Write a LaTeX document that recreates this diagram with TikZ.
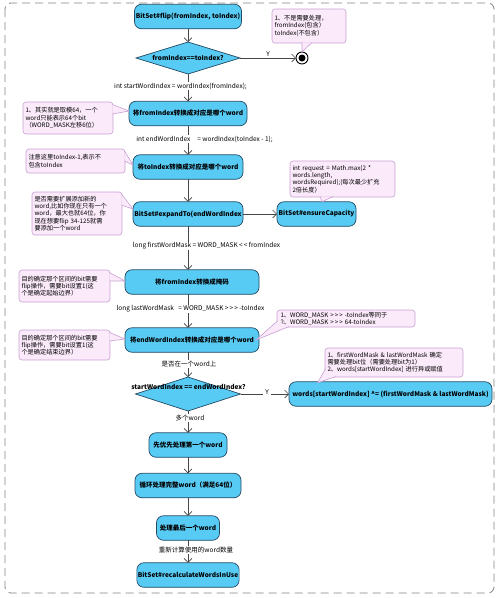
\documentclass[tikz,border=0pt]{standalone}
\usepackage{fontspec}
\setmainfont{Noto Sans CJK SC}
\usetikzlibrary{shapes.geometric,arrows.meta,calc}
\definecolor{nodefill}{RGB}{88,203,245}
\definecolor{nodeborder}{RGB}{35,75,100}
\definecolor{notefill}{RGB}{251,234,250}
\definecolor{noteborder}{RGB}{200,160,212}
\definecolor{edgecol}{RGB}{70,70,70}
\definecolor{framecol}{RGB}{130,130,130}
\tikzset{
  act/.style={rectangle, rounded corners=7pt, draw=nodeborder, fill=nodefill, line width=0.7pt,
    minimum height=24.5pt, inner sep=1pt, outer sep=0pt, font=\bfseries\fontsize{6.5}{7.5}\selectfont},
  dec/.style={diamond, draw=nodeborder, fill=nodefill, line width=0.7pt, inner sep=0pt, outer sep=0pt},
  dectext/.style={font=\bfseries\fontsize{6.5}{7.5}\selectfont, inner sep=0pt},
  note/.style={rectangle, rounded corners=3pt, draw=noteborder, fill=notefill, line width=0.6pt,
    anchor=north west, align=left, inner sep=2.5pt, outer sep=0pt, font=\fontsize{6.2}{7.3}\selectfont},
  lbl/.style={fill=white, inner sep=0.6pt, font=\fontsize{6.5}{7.5}\selectfont},
  arr/.style={draw=edgecol, line width=0.6pt, -{Straight Barb[length=4pt,width=8pt]}},
  tailline/.style={draw=noteborder, line width=0.6pt, line join=miter},
  framestyle/.style={draw=framecol, line width=0.8pt, dash pattern=on 8pt off 5pt, rounded corners=6pt}
}
\newcommand\notetail[3]{%
  \fill[notefill] #1 -- #2 -- #3 -- cycle;
  \draw[tailline] #1 -- #2 -- #3;}
\begin{document}
\begin{tikzpicture}[x=1pt,y=-1pt]
\useasboundingbox (0,0) rectangle (500,598);
\draw[framestyle] (5,3) rectangle (494,593);

% activity nodes
\node[act, minimum width=107pt] (flip) at (188,16.5) {BitSet\#flip(fromIndex, toIndex)};
\node[dec, minimum width=104pt, minimum height=32pt] (d1) at (188,58) {};
\node[dectext] (d1t) at (d1) {fromIndex==toIndex?};
\node[circle, draw=black, line width=0.9pt, fill=white, minimum size=12pt, inner sep=0pt, outer sep=0pt] (endc) at (302,58) {};
\node[circle, fill=black, minimum size=7pt, inner sep=0pt] (endin) at (endc) {};
\node[act, minimum width=118pt] (n4) at (188,113.5) {将fromIndex转换成对应是哪个word};
\node[act, minimum width=110pt] (n5) at (188,167) {将toIndex转换成对应是哪个word};
\node[act, minimum width=110pt] (n6) at (188,214) {BitSet\#expandTo(endWordIndex};
\node[act, minimum width=79pt] (ens) at (316.5,214) {BitSet\#ensureCapacity};
\node[act, minimum width=134pt] (n8) at (192,282) {将fromIndex转换成掩码};
\node[act, minimum width=134pt] (n9) at (192,340) {将endWordIndex转换成对应是哪个word};
\node[dec, minimum width=105pt, minimum height=34pt] (d2) at (188,394) {};
\node[dectext] (d2t) at (188.5,387) {startWordIndex == endWordIndex?};
\node[act, minimum width=203pt] (n11) at (390.5,394) {words[startWordIndex] \^{}= (firstWordMask \& lastWordMask)};
\node[act, minimum width=78pt] (n12) at (188,445) {先优先处理第一个word};
\node[act, minimum width=106pt] (n13) at (188,485.5) {循环处理完整word（满足64位）};
\node[act, minimum width=63pt] (n14) at (188,528) {处理最后一个word};
\node[act, minimum width=102pt] (n15) at (188,575) {BitSet\#recalculateWordsInUse};

% connectors
\draw[arr] (flip.south) -- (d1.north);
\draw[arr] (d1.east) -- node[above, inner sep=1.5pt, font=\fontsize{6.5}{7.5}\selectfont] (ly1) {Y} (endc.west);
\draw[arr] (d1.south) -- (n4.north);
\draw[arr] (n4.south) -- (n5.north);
\draw[arr] (n5.south) -- (n6.north);
\draw[arr] (n6.east) -- (ens.west);
\draw[arr] (n6.south) -- (n6.south |- n8.north);
\draw[arr] (n8.south -| n6.south) -- (n6.south |- n9.north);
\draw[arr] (n9.south -| d2.north) -- (d2.north);
\draw[arr] (d2.east) -- (n11.west);
\draw[arr] (d2.south) -- (n12.north);
\draw[arr] (n12.south) -- (n13.north);
\draw[arr] (n13.south) -- (n14.north);
\draw[arr] (n14.south) -- (n15.north);

% edge labels
\node[lbl] (l1) at (180.5,86) {int startWordIndex = wordIndex(fromIndex);};
\node[lbl] (l2) at (204.5,139) {int endWordIndex\hspace{7pt}= wordIndex(toIndex - 1);};
\node[lbl] (l3) at (206.5,246) {long firstWordMask = WORD\_MASK <\,< fromIndex};
\node[lbl] (l4) at (190.5,309) {long lastWordMask\hspace{3pt} = WORD\_MASK >\,>\,> -toIndex};
\node[lbl] (l5) at (189,364) {是否在一个word上};
\node[lbl, inner sep=2pt] (ly2) at (267,392.5) {Y};
\node[lbl] (l7) at (190,418) {多个word};
\node[lbl] (l8) at (196,550) {重新计算使用的word数量};

% notes
\node[note, minimum width=74pt, minimum height=34pt, text width=69pt] (N1) at (272,9)
  {1、不是需要处理，\\fromIndex(包含）\\toIndex(不包含）};
\notetail{($(N1.south west)+(30,-0.5)$)}{(endc.north)}{($(N1.south west)+(40,-0.5)$)}

\node[note, minimum width=90pt, minimum height=32pt, text width=85pt] (N2) at (23,102)
  {1、其实就是取模64，一个\\word只能表示64个bit\\（WORD\_MASK左移6位）};
\notetail{($(N2.north east)+(-0.5,2.5)$)}{($(n4.west)+(0,-2.5)$)}{($(N2.north east)+(-0.5,12)$)}

\node[note, minimum width=99pt, minimum height=24pt, text width=94pt] (N3) at (26,149)
  {注意这里toIndex-1,表示不\\包含toIndex};
\notetail{($(N3.north east)+(-0.5,2)$)}{($(n5.west)+(0,-2)$)}{($(N3.north east)+(-0.5,12)$)}

\node[note, minimum width=105pt, minimum height=36pt, text width=100pt] (N4) at (290,161)
  {int request = Math.max(2 *\\words.length,\\wordsRequired);(每次最少扩充\\2倍长度）};
\notetail{($(N4.south west)+(30,-0.5)$)}{($(ens.north)+(5.5,0)$)}{($(N4.south west)+(43,-0.5)$)}

\node[note, minimum width=90pt, minimum height=43pt, text width=85pt] (N5) at (32,192)
  {是否需要扩展添加新的\\word,比如你现在只有一个\\word，最大也就64位，你\\现在想要flip 34-125就需\\要添加一个word};
\notetail{($(N5.north east)+(-0.5,2)$)}{($(n6.west)+(0,-5)$)}{($(N5.north east)+(-0.5,13)$)}

\node[note, minimum width=91pt, minimum height=32pt, text width=86pt] (N6) at (19,270)
  {目的确定那个区间的bit需要\\flip操作，需要bit设置1(这\\个是确定起始边界）};
\notetail{($(N6.north east)+(-0.5,2.5)$)}{($(n8.west)+(0,-1)$)}{($(N6.north east)+(-0.5,11)$)}

\node[note, minimum width=91pt, minimum height=30pt, text width=86pt] (N7) at (19,330)
  {目的确定那个区间的bit需要\\flip操作，需要bit设置1(这\\个是确定结束边界）};
\notetail{($(N7.north east)+(-0.5,2.5)$)}{($(n9.west)+(0,-1)$)}{($(N7.north east)+(-0.5,11)$)}

\node[note, minimum width=138pt, minimum height=17pt, text width=133pt, inner sep=1.5pt] (N8) at (277,310)
  {\hspace{1pt}1、WORD\_MASK >\,>\,> -toIndex等同于\\\hspace{1pt}2、WORD\_MASK >\,>\,> 64-toIndex};
\notetail{($(N8.south west)+(0.5,-6)$)}{($(n9.east)+(-3,0)$)}{($(N8.south west)+(12,-0.5)$)}

\node[note, minimum width=138pt, minimum height=29pt, text width=133pt] (N9) at (325,348)
  {1、firstWordMask \& lastWordMask 确定\\需要处理bit位（需要处理bit为1）\\2、words[startWordIndex] 进行异或赋值};
\notetail{($(N9.south west)+(0.5,-8)$)}{($(n11.north)+(-73,1)$)}{($(N9.south west)+(11,-0.5)$)}
\end{tikzpicture}
\end{document}
